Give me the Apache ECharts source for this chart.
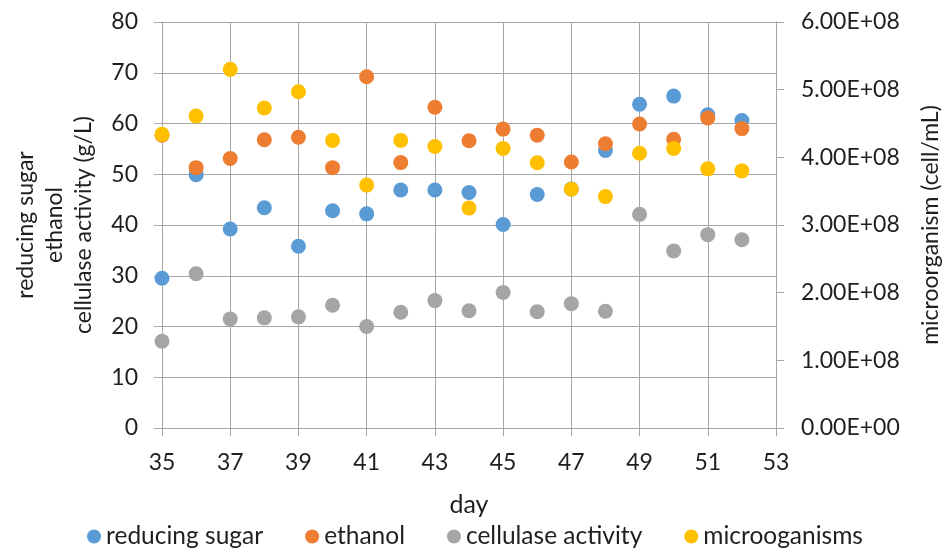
<!DOCTYPE html>
<html>
<head>
<meta charset="utf-8">
<script src="https://cdn.jsdelivr.net/npm/echarts@6/dist/echarts.min.js"></script>
<style>
  html, body { margin: 0; padding: 0; background: #ffffff; }
  #chart { width: 950px; height: 554px; }
</style>
</head>
<body>
<div id="chart"></div>
<script>
// Sampling days
const days = [35, 36, 37, 38, 39, 40, 41, 42, 43, 44, 45, 46, 47, 48, 49, 50, 51, 52];

// Left axis series (g/L)
const reducingSugar = [29.5, 49.9, 39.2, 43.4, 35.8, 42.8, 42.2, 46.9, 46.9, 46.4, 40.1, 46.0, 47.1, 54.7, 63.8, 65.4, 61.7, 60.6];
const ethanol = [57.7, 51.3, 53.1, 56.8, 57.3, 51.3, 69.2, 52.3, 63.2, 56.6, 58.9, 57.7, 52.4, 56.0, 59.9, 56.9, 61.1, 59.0];
const cellulaseActivity = [17.1, 30.4, 21.5, 21.7, 21.9, 24.2, 20.0, 22.8, 25.1, 23.1, 26.7, 22.9, 24.5, 23.0, 42.1, 34.9, 38.1, 37.1];

// Right axis series (cell/mL)
const microorganisms = [4.34e8, 4.61e8, 5.30e8, 4.73e8, 4.97e8, 4.25e8, 3.59e8, 4.25e8, 4.16e8, 3.25e8, 4.13e8, 3.92e8, 3.53e8, 3.42e8, 4.06e8, 4.13e8, 3.83e8, 3.80e8];

const seriesNames = ['reducing sugar', 'ethanol', 'cellulase activity', 'microoganisms'];
const seriesColors = ['#5B9BD5', '#ED7D31', '#A5A5A5', '#FFC000'];

const FONT = 'Lato';
const TEXT = '#1f1f1f';
const GRID = '#A6A6A6';

function pairs(values) {
  return days.map((d, i) => [d, values[i]]);
}

function sci(v) {
  if (v === 0) return '0.00E+00';
  const exp = Math.floor(Math.log10(Math.abs(v)));
  const mant = v / Math.pow(10, exp);
  const e = String(Math.abs(exp)).padStart(2, '0');
  return mant.toFixed(2) + 'E' + (exp < 0 ? '-' : '+') + e;
}

const chart = echarts.init(document.getElementById('chart'), null, { renderer: 'canvas' });

const axisText = { color: TEXT, fontFamily: FONT, fontSize: 23 };

chart.setOption({
  animation: false,
  backgroundColor: '#ffffff',
  textStyle: { fontFamily: FONT, color: TEXT },
  grid: { left: 162, right: 167, top: 22, bottom: 126, containLabel: false },
  legend: {
    bottom: 0,
    left: 'center',
    icon: 'circle',
    itemWidth: 14,
    itemHeight: 14,
    itemGap: 42,
    textStyle: { color: TEXT, fontFamily: FONT, fontSize: 24.5 },
    data: seriesNames
  },
  xAxis: {
    type: 'value',
    min: 35,
    max: 53,
    interval: 2,
    name: 'day',
    nameLocation: 'middle',
    nameGap: 64,
    nameTextStyle: Object.assign({}, axisText, { fontSize: 25 }),
    axisLine: { show: true, lineStyle: { color: GRID, width: 1 } },
    axisTick: { show: true, length: 8, lineStyle: { color: GRID } },
    axisLabel: Object.assign({ margin: 23 }, axisText),
    splitLine: { show: true, lineStyle: { color: GRID, width: 1 } }
  },
  yAxis: [
    {
      type: 'value',
      min: 0,
      max: 80,
      interval: 10,
      name: 'reducing sugar\nethanol\ncellulase activity (g/L)',
      nameLocation: 'middle',
      nameRotate: 90,
      nameGap: 64,
      nameTextStyle: Object.assign({ lineHeight: 29, align: 'center' }, axisText),
      axisLine: { show: true, lineStyle: { color: GRID, width: 1 } },
      axisTick: { show: true, length: 8, lineStyle: { color: GRID } },
      axisLabel: Object.assign({ margin: 24 }, axisText),
      splitLine: { show: true, lineStyle: { color: GRID, width: 1 } }
    },
    {
      type: 'value',
      position: 'right',
      min: 0,
      max: 6e8,
      interval: 1e8,
      name: 'microorganism (cell/mL)',
      nameLocation: 'middle',
      nameRotate: 90,
      nameGap: 143,
      nameTextStyle: axisText,
      axisLine: { show: true, lineStyle: { color: GRID, width: 1 } },
      axisTick: { show: true, length: 8, lineStyle: { color: GRID } },
      axisLabel: Object.assign({ margin: 25, formatter: sci }, axisText),
      splitLine: { show: false }
    }
  ],
  series: [
    { name: seriesNames[0], type: 'scatter', yAxisIndex: 0, data: pairs(reducingSugar) },
    { name: seriesNames[1], type: 'scatter', yAxisIndex: 0, data: pairs(ethanol) },
    { name: seriesNames[2], type: 'scatter', yAxisIndex: 0, data: pairs(cellulaseActivity) },
    { name: seriesNames[3], type: 'scatter', yAxisIndex: 1, data: pairs(microorganisms) }
  ].map((s, i) => Object.assign(s, {
    symbol: 'circle',
    symbolSize: 15,
    itemStyle: { color: seriesColors[i], opacity: 1 },
    emphasis: { disabled: true }
  }))
});
</script>
</body>
</html>
